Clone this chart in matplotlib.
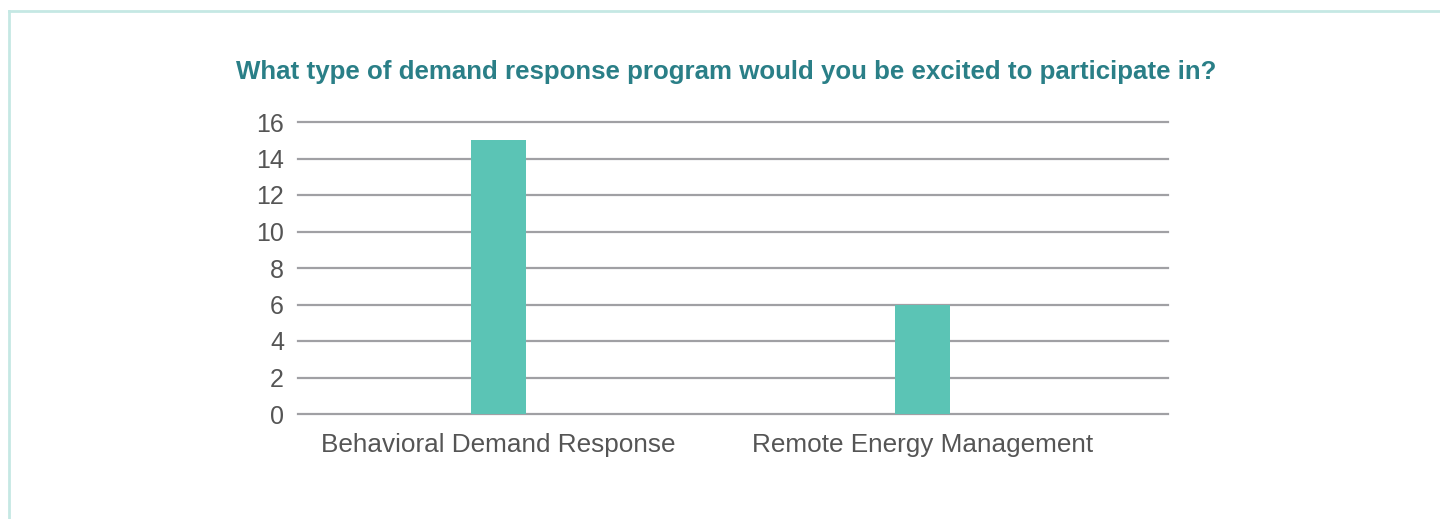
import matplotlib.pyplot as plt
from matplotlib.lines import Line2D

categories = ["Behavioral Demand Response", "Remote Energy Management"]
counts = [15, 6]
yticks = [0, 2, 4, 6, 8, 10, 12, 14, 16]
title = "What type of demand response program would you be excited to participate in?"

plt.rcParams['font.family'] = ['Liberation Sans', 'DejaVu Sans']

fig = plt.figure(figsize=(14.4, 5.19), dpi=100)
ax = fig.add_axes([298/1440, 1-414/519, 870/1440, 292/519])

x = range(len(categories))
ax.bar(x, counts, width=0.13, color='#5bc4b5', zorder=3)

ax.set_xlim(-0.473, 1.579)
ax.set_ylim(0, 16)
ax.set_yticks(yticks)
ax.set_xticks(list(x))
ax.set_xticklabels(categories)
ax.yaxis.grid(True, color='#a0a0a4', linewidth=1.6, zorder=0)
ax.set_axisbelow(True)
for gl in ax.get_ygridlines():
    gl.set_clip_on(False)
for s in ax.spines.values():
    s.set_visible(False)
ax.tick_params(axis='both', length=0, labelcolor='#555555')
ax.tick_params(axis='y', pad=10, labelsize=18)
ax.tick_params(axis='x', pad=14, labelsize=18.8)

fig.text(726/1440, 1-72/519, title, ha='center', va='center',
         fontsize=18.6, fontweight='bold', color='#2a7f87')

# frame border (top and left edges visible)
fig.add_artist(Line2D([8.5/1440, 8.5/1440], [0, 1-10.5/519], transform=fig.transFigure,
                      color='#c5e8e4', linewidth=2))
fig.add_artist(Line2D([8.5/1440, 1], [1-10.5/519, 1-10.5/519], transform=fig.transFigure,
                      color='#c5e8e4', linewidth=2))

fig.savefig('out.png', dpi=100)
